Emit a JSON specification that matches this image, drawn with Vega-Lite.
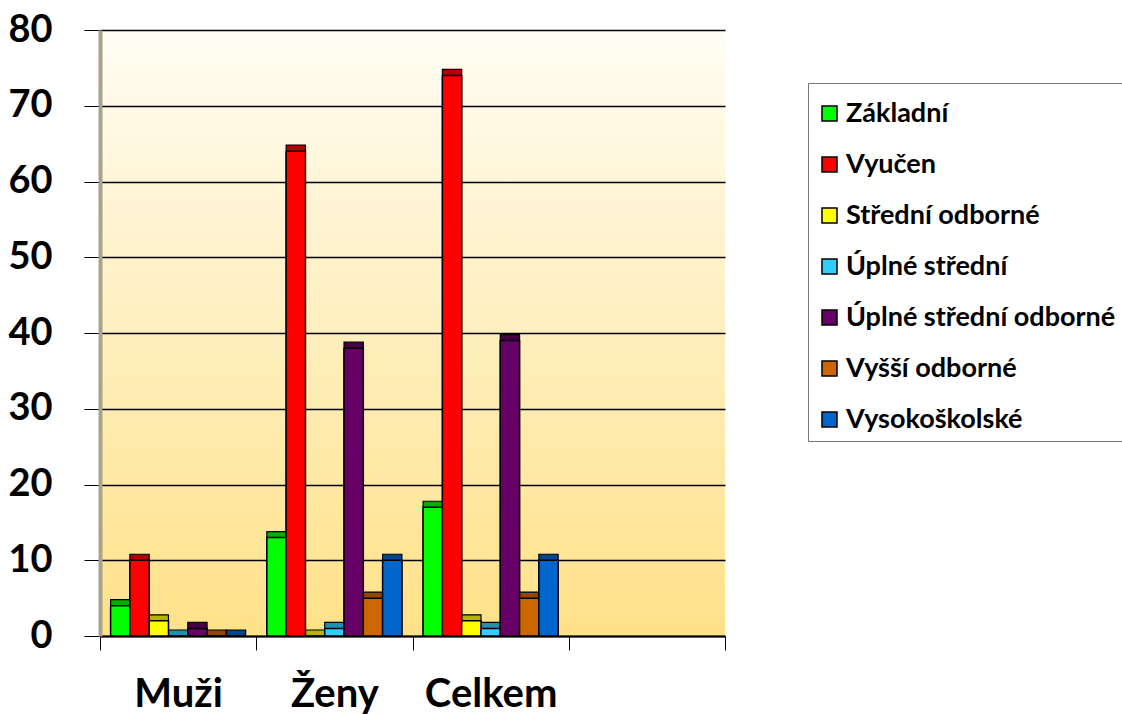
{
  "$schema": "https://vega.github.io/schema/vega-lite/v6.json",
  "autosize": "none",
  "width": 625,
  "height": 606,
  "padding": {"left": 100, "top": 30, "right": 397, "bottom": 78},
  "background": "white",
  "config": {
    "font": "Lato",
    "view": {
      "stroke": null,
      "fill": {"gradient": "linear", "x1": 0, "y1": 0, "x2": 0, "y2": 1,
        "stops": [{"offset": 0, "color": "#FFFDF4"}, {"offset": 1, "color": "#FFE188"}]}
    }
  },
  "data": {
    "values": [
      {"skupina": "Muži", "vzdelani": "Základní", "pocet": 4},
      {"skupina": "Muži", "vzdelani": "Vyučen", "pocet": 10},
      {"skupina": "Muži", "vzdelani": "Střední odborné", "pocet": 2},
      {"skupina": "Muži", "vzdelani": "Úplné střední", "pocet": 0},
      {"skupina": "Muži", "vzdelani": "Úplné střední odborné", "pocet": 1},
      {"skupina": "Muži", "vzdelani": "Vyšší odborné", "pocet": 0},
      {"skupina": "Muži", "vzdelani": "Vysokoškolské", "pocet": 0},
      {"skupina": "Ženy", "vzdelani": "Základní", "pocet": 13},
      {"skupina": "Ženy", "vzdelani": "Vyučen", "pocet": 64},
      {"skupina": "Ženy", "vzdelani": "Střední odborné", "pocet": 0},
      {"skupina": "Ženy", "vzdelani": "Úplné střední", "pocet": 1},
      {"skupina": "Ženy", "vzdelani": "Úplné střední odborné", "pocet": 38},
      {"skupina": "Ženy", "vzdelani": "Vyšší odborné", "pocet": 5},
      {"skupina": "Ženy", "vzdelani": "Vysokoškolské", "pocet": 10},
      {"skupina": "Celkem", "vzdelani": "Základní", "pocet": 17},
      {"skupina": "Celkem", "vzdelani": "Vyučen", "pocet": 74},
      {"skupina": "Celkem", "vzdelani": "Střední odborné", "pocet": 2},
      {"skupina": "Celkem", "vzdelani": "Úplné střední", "pocet": 1},
      {"skupina": "Celkem", "vzdelani": "Úplné střední odborné", "pocet": 39},
      {"skupina": "Celkem", "vzdelani": "Vyšší odborné", "pocet": 5},
      {"skupina": "Celkem", "vzdelani": "Vysokoškolské", "pocet": 10}
    ]
  },
  "encoding": {
    "x": {
      "field": "skupina", "type": "nominal",
      "scale": {"domain": ["Muži", "Ženy", "Celkem", "_"], "paddingInner": 0, "paddingOuter": 0},
      "axis": {
        "title": null, "labelAngle": 0,
        "labelExpr": "datum.value == '_' ? '' : datum.label",
        "labelFont": "Lato", "labelFontSize": 40, "labelFontWeight": "bold", "labelColor": "black",
        "labelPadding": 24, "tickBand": "extent", "tickSize": 14, "tickColor": "black", "tickWidth": 1,
        "domainColor": "black", "domainWidth": 2
      }
    },
    "xOffset": {
      "field": "vzdelani", "type": "nominal",
      "scale": {"domain": ["Základní", "Vyučen", "Střední odborné", "Úplné střední", "Úplné střední odborné", "Vyšší odborné", "Vysokoškolské"], "paddingInner": 0, "paddingOuter": 0.55}
    },
    "y": {
      "field": "pocet", "type": "quantitative", "stack": null,
      "scale": {"domain": [0, 80], "nice": false},
      "axis": {
        "title": null, "values": [0, 10, 20, 30, 40, 50, 60, 70, 80],
        "labelFont": "Lato", "labelFontSize": 38, "labelFontWeight": "bold", "labelColor": "black",
        "labelPadding": 32, "tickSize": 16, "tickColor": "black", "tickWidth": 1,
        "grid": true, "gridColor": "black", "gridWidth": 1.5,
        "domainColor": "#A8A48C", "domainWidth": 4
      }
    }
  },
  "layer": [
    {
      "mark": {"type": "bar", "xOffset": 6, "x2Offset": 6, "yOffset": -6, "y2Offset": -6, "stroke": "black", "strokeWidth": 1.2},
      "encoding": {
        "color": {
          "field": "vzdelani", "type": "nominal", "legend": null,
          "scale": {"domain": ["Základní", "Vyučen", "Střední odborné", "Úplné střední", "Úplné střední odborné", "Vyšší odborné", "Vysokoškolské"],
            "range": ["#00B000", "#B00000", "#B3B300", "#2390B3", "#470047", "#8F4700", "#00478F"]}
        }
      }
    },
    {
      "mark": {"type": "bar", "stroke": "black", "strokeWidth": 1.5},
      "encoding": {
        "fill": {
          "field": "vzdelani", "type": "nominal",
          "scale": {"domain": ["Základní", "Vyučen", "Střední odborné", "Úplné střední", "Úplné střední odborné", "Vyšší odborné", "Vysokoškolské"],
            "range": ["#00FF00", "#FF0000", "#FFFF00", "#33CCFF", "#660066", "#CC6600", "#0066CC"]},
          "legend": {
            "title": " ", "titleFontSize": 4, "titlePadding": 5,
            "orient": "none", "legendX": 708, "legendY": 53,
            "labelFont": "Lato", "labelFontSize": 27, "labelFontWeight": "bold", "labelColor": "black",
            "symbolType": "square", "symbolSize": 225, "symbolStrokeColor": "black", "symbolStrokeWidth": 1.5,
            "symbolOpacity": 1, "labelOffset": 3,
            "rowPadding": 23, "padding": 8, "strokeColor": "#777777", "fillColor": "white",
            "labelLimit": 400
          }
        }
      }
    }
  ],
  "resolve": {"scale": {"color": "independent"}}
}
